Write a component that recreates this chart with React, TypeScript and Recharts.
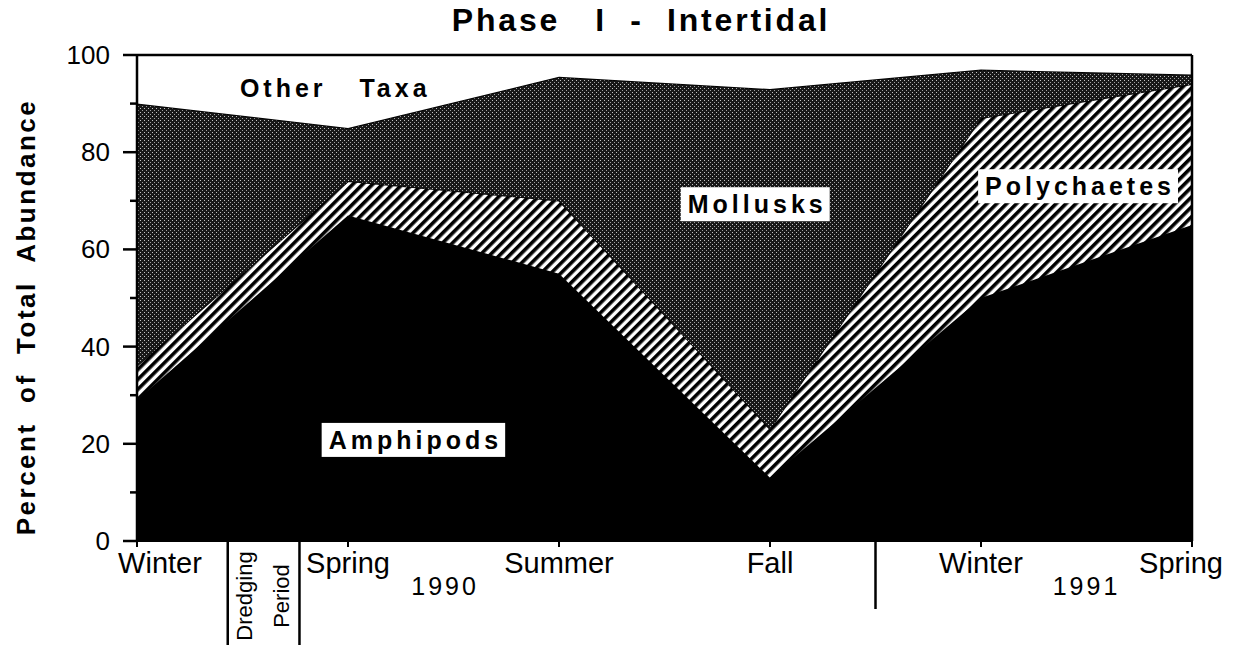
import React from 'react';
import { AreaChart, Area, XAxis, YAxis, ReferenceLine, ReferenceDot, Label } from 'recharts';

// ---- data (percent of total abundance per sampling season) ----
const seasons = ['Winter', 'Spring', 'Summer', 'Fall', 'Winter', 'Spring'];
const amphipods = [29, 67, 55, 13, 50, 65];
const polychaetes = [7, 7, 15, 10, 37, 29];
const mollusks = [54, 11, 25.5, 70, 10, 2];
const otherTaxa = [10, 15, 4.5, 7, 3, 4];

const yearLabels = [
  { pos: 1.46, label: '1990' },
  { pos: 4.5, label: '1991' },
];
const dredgingBounds = [0.43, 0.77];
const dredgingMid = 0.6;
const yearDivider = 3.5;
const yTicks = [0, 10, 20, 30, 40, 50, 60, 70, 80, 90, 100];

const areaLabels = [
  { x: 0.93, y: 93.2, text: 'Other   Taxa', boxed: false },
  { x: 2.93, y: 69.3, text: 'Mollusks', boxed: true },
  { x: 4.46, y: 73.0, text: 'Polychaetes', boxed: true },
  { x: 1.31, y: 20.8, text: 'Amphipods', boxed: true },
];

const data = seasons.map((s, i) => ({
  t: i,
  season: s,
  amphipods: amphipods[i],
  polychaetes: polychaetes[i],
  mollusks: mollusks[i],
  otherTaxa: otherTaxa[i],
}));

const seasonTicks = seasons.map((_, i) => i);
const allXTicks = [
  ...seasonTicks,
  ...yearLabels.map((d) => d.pos),
  ...dredgingBounds,
  dredgingMid,
  yearDivider,
].sort((a, b) => a - b);

const FONT = '"Liberation Sans", Arial, Helvetica, sans-serif';

// approximate bold glyph widths (em) for box sizing
const BOLD_W: Record<string, number> = {
  A: 0.722, M: 0.833, P: 0.667, O: 0.778, T: 0.611,
  a: 0.556, c: 0.556, d: 0.611, e: 0.556, h: 0.611, i: 0.278, k: 0.556, l: 0.278,
  m: 0.889, o: 0.611, p: 0.611, r: 0.389, s: 0.556, t: 0.333, u: 0.611, x: 0.556, y: 0.556, ' ': 0.278,
};
const textWidth = (t: string, fs: number, ls: number) =>
  t.split('').reduce((acc, c) => acc + (BOLD_W[c] ?? 0.6) * fs, 0) + (t.length - 1) * ls;

const XTick = (props: any) => {
  const { x, y, payload } = props;
  const v = payload.value;
  const sIdx = seasonTicks.indexOf(v);
  if (sIdx >= 0) {
    const dx = sIdx === 0 ? 23 : sIdx === seasons.length - 1 ? -11 : 0;
    return (
      <g>
        <line x1={x} y1={y} x2={x} y2={y + 6} stroke="#000" strokeWidth={2} />
        <text x={x + dx} y={y + 32} textAnchor="middle" fontFamily={FONT} fontSize={29} fill="#000">
          {seasons[sIdx]}
        </text>
      </g>
    );
  }
  const yl = yearLabels.find((d) => d.pos === v);
  if (yl) {
    return (
      <text x={x} y={y + 54} textAnchor="middle" fontFamily={FONT} fontSize={25} letterSpacing={3} fill="#000">
        {yl.label}
      </text>
    );
  }
  if (dredgingBounds.includes(v)) {
    return <line x1={x} y1={y} x2={x} y2={y + 104} stroke="#000" strokeWidth={2.5} />;
  }
  if (v === dredgingMid) {
    const cy = y + 55;
    return (
      <g fontFamily={FONT} fontSize={22} fill="#000">
        <text x={x - 19} y={cy} textAnchor="middle" dominantBaseline="central" transform={`rotate(-90 ${x - 19} ${cy})`}>
          Dredging
        </text>
        <text x={x + 18} y={cy} textAnchor="middle" dominantBaseline="central" transform={`rotate(-90 ${x + 18} ${cy})`}>
          Period
        </text>
      </g>
    );
  }
  if (v === yearDivider) {
    return <line x1={x} y1={y} x2={x} y2={y + 68} stroke="#000" strokeWidth={2.5} />;
  }
  return null;
};

const YTick = (props: any) => {
  const { x, y, payload } = props;
  const v = payload.value;
  const major = v % 20 === 0;
  return (
    <g>
      <line x1={major ? x - 14 : x - 7} y1={y} x2={x} y2={y} stroke="#000" strokeWidth={2.5} />
      {major && (
        <text x={x - 27} y={y} textAnchor="end" dominantBaseline="central" fontFamily={FONT} fontSize={26} fill="#000">
          {v}
        </text>
      )}
    </g>
  );
};

const YTitle = (props: any) => {
  const { viewBox } = props;
  const cx = viewBox.x + 26;
  const cy = viewBox.y + viewBox.height / 2 + 19;
  return (
    <text
      x={cx}
      y={cy}
      textAnchor="middle"
      dominantBaseline="central"
      transform={`rotate(-90 ${cx} ${cy})`}
      fontFamily={FONT}
      fontWeight="bold"
      fontSize={26}
      letterSpacing={2.5}
      style={{ whiteSpace: 'pre' }}
      fill="#000"
    >
      {'Percent  of  Total  Abundance'}
    </text>
  );
};

const AreaLabel = (props: any) => {
  const { viewBox, text, boxed } = props;
  const cx = viewBox.x + viewBox.width / 2;
  const cy = viewBox.y + viewBox.height / 2;
  const fs = 25;
  const ls = 4;
  const w = textWidth(text, fs, ls);
  return (
    <g>
      {boxed && <rect x={cx - w / 2 - 7} y={cy - 17} width={w + 14} height={34} fill="#fff" />}
      <text
        x={cx + ls / 2}
        y={cy}
        textAnchor="middle"
        dominantBaseline="central"
        fontFamily={FONT}
        fontWeight="bold"
        fontSize={fs}
        letterSpacing={ls}
        style={{ whiteSpace: 'pre' }}
        fill="#000"
      >
        {text}
      </text>
    </g>
  );
};

export default function App() {
  return (
    <div style={{ position: 'absolute', left: 0, top: 0, width: 1236, height: 646, background: '#fff' }}>
      <div
        style={{
          position: 'absolute',
          left: 0,
          top: 2,
          width: 1282,
          textAlign: 'center',
          fontFamily: FONT,
          fontWeight: 'bold',
          fontSize: 32,
          letterSpacing: 2.8,
          whiteSpace: 'pre',
          color: '#000',
        }}
      >
        {'Phase   I  -  Intertidal'}
      </div>
      <AreaChart
        width={1236}
        height={646}
        data={data}
        margin={{ top: 55, right: 44, bottom: 0, left: 0 }}
        style={{ position: 'absolute', left: 0, top: 0 }}
      >
        <defs>
          <pattern id="hatch" patternUnits="userSpaceOnUse" width={7} height={7} patternTransform="rotate(45)">
            <rect width={7} height={7} fill="#fff" />
            <rect width={3.6} height={7} fill="#000" />
          </pattern>
          <pattern id="stipple" patternUnits="userSpaceOnUse" width={4} height={4}>
            <rect width={4} height={4} fill="#181818" />
            <rect x={0} y={0} width={1} height={1} fill="#c4c4c4" />
            <rect x={2} y={2} width={1} height={1} fill="#a0a0a0" />
          </pattern>
        </defs>
        <XAxis
          dataKey="t"
          type="number"
          domain={[0, 5]}
          ticks={allXTicks}
          interval={0}
          tick={<XTick />}
          tickLine={false}
          tickSize={0}
          tickMargin={0}
          axisLine={{ stroke: '#000', strokeWidth: 2 }}
          height={105}
        />
        <YAxis
          type="number"
          domain={[0, 100]}
          ticks={yTicks}
          interval={0}
          width={137}
          tick={<YTick />}
          tickLine={false}
          tickSize={0}
          tickMargin={0}
          axisLine={{ stroke: '#000', strokeWidth: 2.5 }}
        >
          <Label content={<YTitle />} />
        </YAxis>
        <Area
          type="linear"
          dataKey="amphipods"
          stackId="1"
          fill="#000"
          fillOpacity={1}
          stroke="#000"
          strokeWidth={1.5}
          isAnimationActive={false}
        />
        <Area
          type="linear"
          dataKey="polychaetes"
          stackId="1"
          fill="url(#hatch)"
          fillOpacity={1}
          stroke="#000"
          strokeWidth={1.5}
          isAnimationActive={false}
        />
        <Area
          type="linear"
          dataKey="mollusks"
          stackId="1"
          fill="url(#stipple)"
          fillOpacity={1}
          stroke="#000"
          strokeWidth={2}
          isAnimationActive={false}
        />
        <Area
          type="linear"
          dataKey="otherTaxa"
          stackId="1"
          fill="#fff"
          fillOpacity={1}
          stroke="#000"
          strokeWidth={2.5}
          isAnimationActive={false}
        />
        <ReferenceLine x={5} stroke="#000" strokeWidth={2.5} />
        {areaLabels.map((l) => (
          <ReferenceDot
            key={l.text}
            x={l.x}
            y={l.y}
            r={1}
            fill="none"
            stroke="none"
            label={<AreaLabel text={l.text} boxed={l.boxed} />}
          />
        ))}
      </AreaChart>
    </div>
  );
}
